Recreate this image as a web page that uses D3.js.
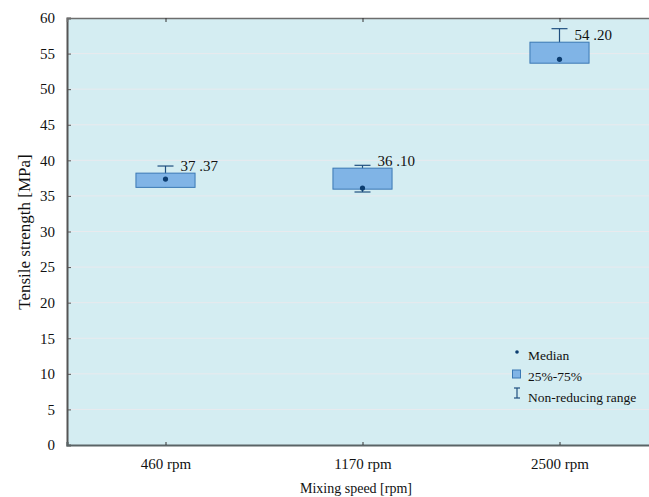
<!DOCTYPE html>
<html>
<head>
<meta charset="utf-8">
<script src="https://cdn.jsdelivr.net/npm/d3@7"></script>
<style>
  html, body { margin: 0; padding: 0; background: #fff; }
  svg { display: block; }
  text { font-family: "Liberation Serif", "Times New Roman", serif; fill: #111; }
</style>
</head>
<body>
<svg id="chart" width="649" height="497"></svg>
<script>
// Tensile strength by mixing speed
const categories = ["460 rpm", "1170 rpm", "2500 rpm"];
const medians    = [37.37, 36.10, 54.20];
const q1         = [36.2, 35.95, 53.65];
const q3         = [38.2, 38.9, 56.6];
const lowRange   = [36.2, 35.55, 53.65];
const highRange  = [39.2, 39.3, 58.5];
const medianLabels = ["37 .37", "36 .10", "54 .20"];
const yTicks = [0, 5, 10, 15, 20, 25, 30, 35, 40, 45, 50, 55, 60];
const legendItems = ["Median", "25%-75%", "Non-reducing range"];

const svg = d3.select("#chart");
const x0 = 67, x1 = 658, y0 = 18, y1 = 445;

const x = d3.scalePoint().domain(categories).range([x0, x1]).padding(0.5);
const y = d3.scaleLinear().domain([0, 60]).range([y1, y0]);
const boxW = x.step() * 0.3;

// plot background
svg.append("rect").attr("x", x0).attr("y", y0)
  .attr("width", x1 - x0).attr("height", y1 - y0).attr("fill", "#d4edf2");

// horizontal grid
svg.append("g").selectAll("line").data(yTicks.slice(1, -1)).join("line")
  .attr("x1", x0).attr("x2", x1)
  .attr("y1", d => y(d)).attr("y2", d => y(d))
  .attr("stroke", "#e9eaee").attr("stroke-width", 1);

const serif = "'Liberation Serif', 'Times New Roman', serif";

// y axis with inward ticks
const yAxis = d3.axisLeft(y).tickValues(yTicks).tickSize(-4).tickPadding(12)
  .tickFormat(d3.format("d"));
const gy = svg.append("g").attr("transform", `translate(${x0},0)`).call(yAxis);
gy.select(".domain").attr("stroke", "#555").attr("stroke-width", 2);
gy.selectAll(".tick line").attr("stroke", "#555");
gy.selectAll(".tick text").style("font-size", "15px")
  .style("font-family", serif).attr("fill", "#111");

// x axis with inward ticks
const xAxis = d3.axisBottom(x).tickSize(-3).tickPadding(13);
const gx = svg.append("g").attr("transform", `translate(0,${y1})`).call(xAxis);
gx.select(".domain").attr("stroke", "#5a6466").attr("stroke-width", 2.2);
gx.selectAll(".tick line").attr("stroke", "#333");
gx.selectAll(".tick text").style("font-size", "15px")
  .style("font-family", serif).attr("fill", "#111");

// top frame with inward ticks
const gt = svg.append("g").attr("transform", `translate(0,${y0})`)
  .call(d3.axisTop(x).tickSize(-4).tickFormat(""));
gt.select(".domain").attr("stroke", "#6d6d6d").attr("stroke-width", 1.5);
gt.selectAll(".tick line").attr("stroke", "#333");

// axis titles
svg.append("text").attr("x", 356).attr("y", 493)
  .attr("text-anchor", "middle").style("font-size", "14px").text("Mixing speed [rpm]");
svg.append("text").attr("transform", `translate(30,232) rotate(-90)`)
  .attr("text-anchor", "middle").style("font-size", "17px").text("Tensile strength [MPa]");

const capW = 16, boxCol = "#80b4e6", lineCol = "#1f4f7f", edgeCol = "#3a78b4";
const g = svg.append("g");
categories.forEach((c, i) => {
  const c0 = x(c);
  // range whiskers
  g.append("line").attr("x1", c0).attr("x2", c0)
    .attr("y1", y(highRange[i])).attr("y2", y(lowRange[i]))
    .attr("stroke", lineCol).attr("stroke-width", 1.2);
  [highRange[i], lowRange[i]].forEach(v => {
    if (v === q1[i]) return;
    g.append("line").attr("x1", c0 - capW / 2).attr("x2", c0 + capW / 2)
      .attr("y1", y(v)).attr("y2", y(v))
      .attr("stroke", lineCol).attr("stroke-width", 1.2);
  });
  // 25%-75% box
  g.append("rect").attr("x", c0 - boxW / 2).attr("width", boxW)
    .attr("y", y(q3[i])).attr("height", y(q1[i]) - y(q3[i]))
    .attr("fill", boxCol).attr("stroke", edgeCol).attr("stroke-width", 1);
  // median point
  g.append("circle").attr("cx", c0).attr("cy", y(medians[i])).attr("r", 2.6)
    .attr("fill", "#0c3d70");
  // value label, sitting just above the box
  g.append("text").attr("x", c0 + 15).attr("y", y(q3[i]) - 2.5)
    .style("font-size", "15px").text(medianLabels[i]);
});

// legend
const lx = 517, ly = 352;
const lg = svg.append("g");
lg.append("circle").attr("cx", lx).attr("cy", ly).attr("r", 1.8).attr("fill", "#0c3d70");
lg.append("rect").attr("x", lx - 4.5).attr("y", ly + 18).attr("width", 8).attr("height", 8)
  .attr("fill", boxCol).attr("stroke", edgeCol).attr("stroke-width", 1);
lg.append("line").attr("x1", lx).attr("x2", lx).attr("y1", ly + 36).attr("y2", ly + 46)
  .attr("stroke", lineCol).attr("stroke-width", 1.2);
[ly + 36, ly + 46].forEach(v => lg.append("line").attr("x1", lx - 3).attr("x2", lx + 3)
  .attr("y1", v).attr("y2", v).attr("stroke", lineCol).attr("stroke-width", 1.2));
lg.selectAll("text.leg").data(legendItems).join("text").attr("class", "leg")
  .attr("x", lx + 11).attr("y", (d, i) => ly + 8 + i * 21)
  .style("font-size", "13.5px").text(d => d);
</script>
</body>
</html>
